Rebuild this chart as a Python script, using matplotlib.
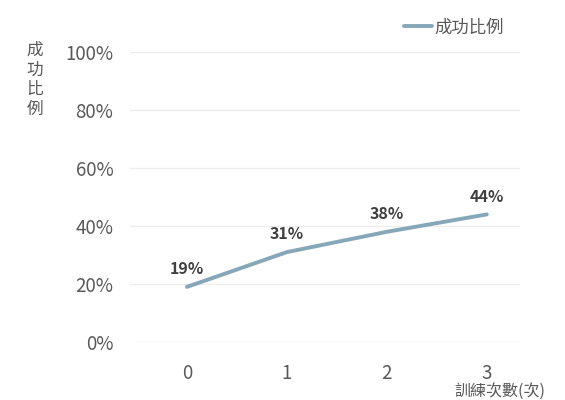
import matplotlib
matplotlib.use("Agg")
import matplotlib.pyplot as plt
from matplotlib.ticker import FuncFormatter

plt.rcParams['font.family'] = ['Noto Sans CJK TC', 'DejaVu Sans']

x_vals = [0, 1, 2, 3]
x_labels = ['0', '1', '2', '3']
success = [0.19, 0.31, 0.38, 0.44]
point_labels = ['19%', '31%', '38%', '44%']
y_ticks = [0, 0.2, 0.4, 0.6, 0.8, 1.0]
series_name = '成功比例'
ylabel_text = '成\n功\n比\n例'
xlabel_text = '訓練次數(次)'

fig = plt.figure(figsize=(5.65, 4.0), dpi=100)
ax = fig.add_axes([0.23, 0.145, 0.69, 0.725])

line_color = '#86a7b8'
ax.plot(x_vals, success, color=line_color, lw=2.8, label=series_name, solid_capstyle='round')
for xv, yv, lab in zip(x_vals, success, point_labels):
    ax.annotate(lab, (xv, yv), xytext=(0, 7), textcoords='offset points',
                ha='center', va='bottom', fontsize=11.5, fontweight='bold', color='#404040')

ax.set_xlim(-0.57, 3.33)
ax.set_ylim(0, 1.0)
ax.set_yticks(y_ticks)
ax.yaxis.set_major_formatter(FuncFormatter(lambda v, p: f'{v*100:.0f}%'))
ax.set_xticks(x_vals)
ax.set_xticklabels(x_labels)
ax.tick_params(axis='both', length=0, labelsize=13.5, colors='#595959')
ax.tick_params(axis='y', pad=12)
ax.tick_params(axis='x', pad=15)
ax.grid(axis='y', color='#ededed', lw=1)
ax.set_axisbelow(True)
for s in ax.spines.values():
    s.set_visible(False)

fig.text(0.062, 0.895, ylabel_text, ha='center', va='top', fontsize=12,
         color='#595959', linespacing=1.2)
fig.text(0.885, 0.0, xlabel_text, ha='center', va='bottom', fontsize=11.5, color='#595959')

leg = ax.legend(loc='upper right', bbox_to_anchor=(1.0, 1.17), frameon=False,
                fontsize=12.5, handlelength=1.6, handletextpad=0.15, labelcolor='#595959')

fig.savefig('out.png', dpi=100, facecolor='white')
